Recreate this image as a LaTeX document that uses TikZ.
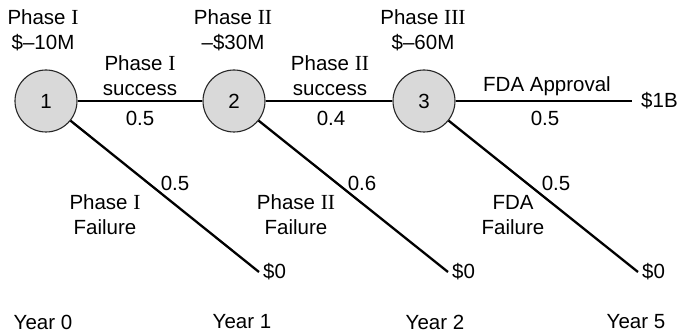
\documentclass[tikz,border=0pt]{standalone}
\usepackage{fontspec}
\setmainfont{Liberation Sans}
\newfontfamily\romfont{Liberation Serif}
\newcommand{\rn}[1]{{\romfont\fontsize{21.5}{25}\selectfont #1}}

\begin{document}
\begin{tikzpicture}[x=1pt,y=1pt,
    font=\fontsize{20.5}{25}\selectfont,
    stage/.style={circle,draw=black!85,fill=gray!30,line width=1.1pt,minimum size=62pt,inner sep=0pt},
    branch/.style={line width=2.3pt},
    lbl/.style={align=center,inner sep=1pt}]
  \useasboundingbox (0,0) rectangle (681,335);

  \node[stage] (c1) at (46,234) {1};
  \node[stage] (c2) at (234,234) {2};
  \node[stage] (c3) at (424,234) {3};

  \node[anchor=west,inner xsep=9pt,inner ysep=0pt] (win) at (632,234) {\$1B};
  \node[anchor=west,inner xsep=4pt,inner ysep=0pt] (z1) at (259,63) {\$0};
  \node[anchor=west,inner xsep=4pt,inner ysep=0pt] (z2) at (448,63) {\$0};
  \node[anchor=west,inner xsep=4pt,inner ysep=0pt] (z3) at (638,63) {\$0};

  \draw[branch] (c1) -- (c2);
  \draw[branch] (c2) -- (c3);
  \draw[branch] (c3) -- (win);
  \draw[branch] (c1) -- (z1.west);
  \draw[branch] (c2) -- (z2.west);
  \draw[branch] (c3) -- (z3.west);

  % costs of each phase
  \node[lbl] (cost1) at (43,305) {Phase \rn{I}\\\$–10M};
  \node[lbl] (cost2) at (233,305) {Phase \rn{II}\\–\$30M};
  \node[lbl] (cost3) at (423,305) {Phase \rn{III}\\\$–60M};

  \node[lbl] (ok1) at (140,259) {Phase \rn{I}\\success};
  \node[lbl] (ok2) at (330,259) {Phase \rn{II}\\success};
  \node[lbl] (ok3) at (547,249) {FDA Approval};
  \node[lbl] (pok1) at (140,217) {0.5};
  \node[lbl] (pok2) at (331,217) {0.4};
  \node[lbl] (pok3) at (545,217) {0.5};

  \node[lbl] (ko1) at (105,120) {Phase \rn{I}\\Failure};
  \node[lbl] (ko2) at (296,120) {Phase \rn{II}\\Failure};
  \node[lbl] (ko3) at (513,120) {FDA\\Failure};
  \node[lbl] (pko1) at (175,152) {0.5};
  \node[lbl] (pko2) at (362,152) {0.6};
  \node[lbl] (pko3) at (556,152) {0.5};

  \node (y0) at (43,13) {Year 0};
  \node (y1) at (242,13) {Year 1};
  \node (y2) at (435,13) {Year 2};
  \node (y5) at (636,13) {Year 5};
\end{tikzpicture}
\end{document}
